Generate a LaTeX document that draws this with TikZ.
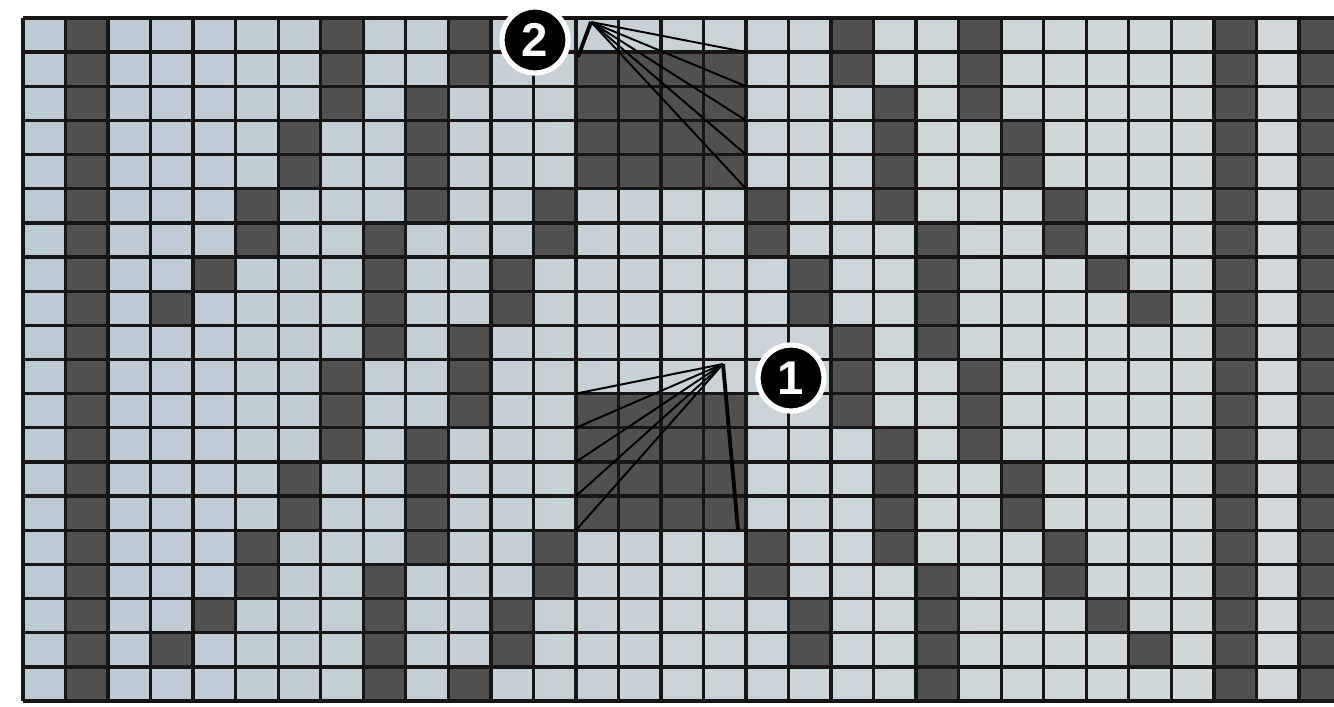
\documentclass[tikz,border=0pt]{standalone}
\usepackage{fontspec}
\setsansfont{Liberation Sans}
\definecolor{cellblue}{HTML}{BCCAD4}
\definecolor{cellgrey}{HTML}{D4DADA}
\definecolor{darkcell}{HTML}{505050}
\definecolor{gridline}{HTML}{161616}
\tikzset{
  darkbox/.style={fill=darkcell, draw=none},
  gridln/.style={draw=gridline, line width=1.9pt},
  badge/.style={circle, fill=black, draw=white, line width=3pt, minimum size=1.32cm, inner sep=0pt, text=white, font=\sffamily\bfseries\fontsize{27}{27}\selectfont},
  fan/.style={draw=black, line width=1.1pt},
  fanthick/.style={draw=black, line width=2.2pt},
}
\begin{document}
\begin{tikzpicture}[x=0.02cm, y=-0.02cm]
\useasboundingbox (0,0) rectangle (1334,706);
\clip (0,0) rectangle (1334,706);
\fill[white] (0,0) rectangle (1334,706);
% light cells
\shade[left color=cellblue, right color=cellgrey] (23,18) rectangle (1341,701);
% full dark columns
\foreach \c in {1,28,30}
  \fill[darkbox] ({23+42.53*\c},18) rectangle ({23+42.53*(\c+1)},701);
% dark cells, column by column
\foreach \c/\rs in {3/{8,18}, 4/{7,17}, 5/{5,6,15,16}, 6/{3,4,13,14},
    7/{0,1,2,10,11,12}, 8/{6,7,8,9,16,17,18,19}, 9/{2,3,4,5,12,13,14,15},
    10/{0,1,9,10,11,19}, 11/{7,8,17,18}, 12/{5,6,15,16},
    17/{5,6,15,16}, 18/{7,8,17,18}, 19/{0,1,9,10,11},
    20/{2,3,4,5,12,13,14,15}, 21/{6,7,8,9,16,17,18,19}, 22/{0,1,2,10,11,12},
    23/{3,4,13,14}, 24/{5,6,15,16}, 25/{7,17}, 26/{8,18}}
  \foreach \r in \rs
    \fill[darkbox] ({23+42.53*\c},{18+34.15*\r}) rectangle ({23+42.53*(\c+1)},{18+34.15*(\r+1)});
% the two 4x4 blocks
\fill[darkbox] ({23+42.53*13},{18+34.15*1}) rectangle ({23+42.53*17},{18+34.15*5});
\fill[darkbox] ({23+42.53*13},{18+34.15*11}) rectangle ({23+42.53*17},{18+34.15*15});
% grid
\foreach \i in {0,...,31}
  \draw[gridln] ({23+42.53*\i},18) -- ({23+42.53*\i},701);
\foreach \j in {0,...,20}
  \draw[gridln] (23,{18+34.15*\j}) -- (1341,{18+34.15*\j});
% annotation 2: fan from apex to the upper block
\coordinate (apexB) at (591,22);
\coordinate (bl) at (578,57);
\draw[fanthick] (apexB) -- (bl);
\foreach \k in {0,...,4} {
  \coordinate (bk\k) at ({23+42.53*17},{18+34.15*(1+\k)});
  \draw[fan] (apexB) -- (bk\k);
}
% annotation 1: fan from apex to the lower block
\coordinate (apexA) at (723,364);
\coordinate (ar) at (738,530);
\draw[fanthick] (apexA) -- (ar);
\foreach \k in {0,...,4} {
  \coordinate (ak\k) at ({23+42.53*13},{18+34.15*(11+\k)});
  \draw[fan] (apexA) -- (ak\k);
}
% badges
\node[badge] (n2) at (535,40) {2};
\node[badge] (n1) at (791,378) {1};
\end{tikzpicture}
\end{document}
